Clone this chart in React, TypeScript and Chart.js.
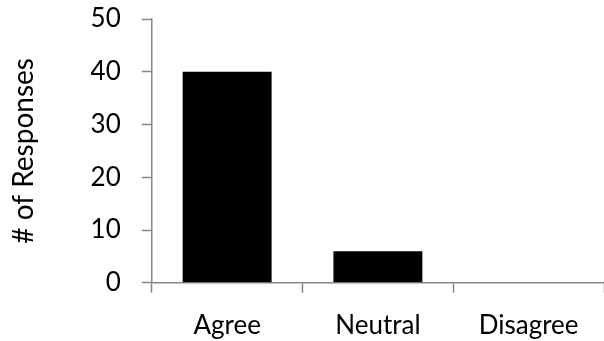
import React, { useEffect, useRef } from "react";
import { Chart, registerables } from "chart.js";

Chart.register(...registerables);

const categories = ["Agree", "Neutral", "Disagree"];
const responses = [40, 6, 0];
const yTitle = "# of Responses";
const yMin = 0;
const yMax = 50;
const yStep = 10;

export default function App() {
  const ref = useRef<HTMLCanvasElement | null>(null);
  useEffect(() => {
    if (!ref.current) return;
    const axisColor = "#878787";
    const font = { family: "Lato, 'Open Sans', sans-serif", size: 26 };
    const titleFont = { family: "Lato, 'Open Sans', sans-serif", size: 28 };
    const chart = new Chart(ref.current, {
      type: "bar",
      data: {
        labels: categories,
        datasets: [
          {
            data: responses,
            backgroundColor: "#000000",
            borderWidth: 0,
            barPercentage: 0.59,
            categoryPercentage: 1,
          },
        ],
      },
      options: {
        animation: false,
        responsive: false,
        maintainAspectRatio: false,
        layout: { padding: { top: 19, right: 0, bottom: -17, left: 7 } },
        plugins: { legend: { display: false }, tooltip: { enabled: false } },
        scales: {
          x: {
            offset: true,
            grid: {
              offset: true,
              drawOnChartArea: false,
              color: axisColor,
              tickLength: 10,
              tickWidth: 1.5,
            },
            border: { color: axisColor, width: 1.5 },
            ticks: { color: "#000", font, padding: 17, maxRotation: 0 },
          },
          y: {
            min: yMin,
            max: yMax,
            afterFit: (scale: any) => {
              scale.paddingTop = 0;
            },
            grid: {
              drawOnChartArea: false,
              color: axisColor,
              tickLength: 10,
              tickWidth: 1.5,
            },
            border: { color: axisColor, width: 1.5 },
            ticks: { stepSize: yStep, color: "#000", font, padding: 21 },
            title: { display: true, text: yTitle, color: "#000", font: titleFont, padding: { top: 0, bottom: 29 } },
          },
        },
      },
    });
    return () => chart.destroy();
  }, []);
  return (
    <div style={{ position: "fixed", left: 0, top: 0, width: 604, height: 341, background: "#fff" }}>
      <canvas ref={ref} width={604} height={341} style={{ width: 604, height: 341 }} />
    </div>
  );
}
